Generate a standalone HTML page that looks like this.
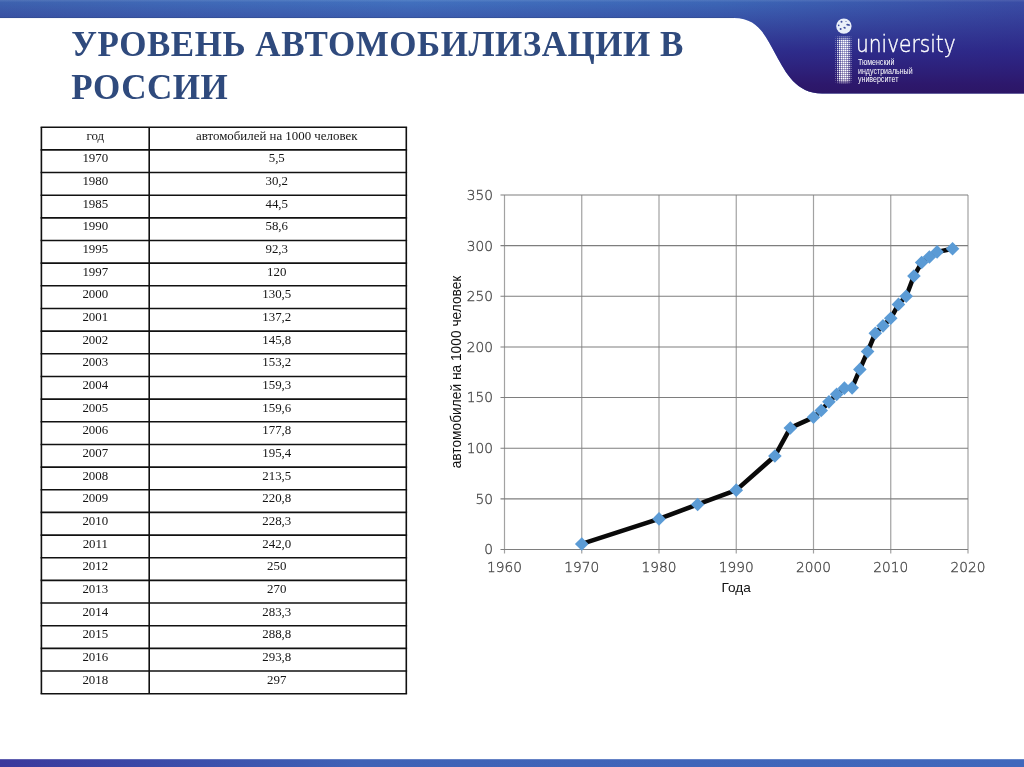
<!DOCTYPE html>
<html lang="ru"><head><meta charset="utf-8"><title>Уровень автомобилизации в России</title>
<style>
html,body{margin:0;padding:0;background:#fff;}
body{width:1024px;height:767px;position:relative;overflow:hidden;font-family:"Liberation Sans",sans-serif;}
.abs{position:absolute;}
h1{position:absolute;left:71.3px;top:23.0px;margin:0;width:720px;font-family:"Liberation Serif",serif;font-weight:bold;font-size:35px;line-height:43px;color:#2f4a7d;letter-spacing:0.52px;}
.uni{position:absolute;left:856.2px;top:29px;color:#fff;font-family:"DejaVu Sans",sans-serif;font-weight:200;font-size:23px;line-height:30px;white-space:nowrap;transform-origin:0 0;transform:scaleX(0.876);-webkit-text-stroke:0.4px #fff;}
.sub{position:absolute;left:858.2px;top:57.9px;color:#fff;font-size:9px;line-height:8.65px;white-space:nowrap;transform-origin:0 0;transform:scaleX(0.783);}
</style></head><body>
<svg class="abs" style="left:0;top:0" width="1024" height="767" viewBox="0 0 1024 767">
<defs>
<linearGradient id="gh" x1="0" y1="0" x2="1" y2="0"><stop offset="0" stop-color="#3e64b0"/><stop offset="0.15" stop-color="#406bb8"/><stop offset="0.4" stop-color="#4273c0"/><stop offset="0.7" stop-color="#3d69b8"/><stop offset="1" stop-color="#3a4ea6"/></linearGradient>
<linearGradient id="gv" x1="0" y1="0" x2="0" y2="1"><stop offset="0" stop-color="#2a1c7c" stop-opacity="0"/><stop offset="0.19" stop-color="#2a1c7c" stop-opacity="0.27"/><stop offset="0.55" stop-color="#2a1e80" stop-opacity="0.8"/><stop offset="0.9" stop-color="#2d186c" stop-opacity="1"/><stop offset="1" stop-color="#2c1666" stop-opacity="1"/></linearGradient>
<linearGradient id="gb" x1="0" y1="0" x2="1" y2="0"><stop offset="0" stop-color="#3a389c"/><stop offset="0.15" stop-color="#3b4aa8"/><stop offset="0.35" stop-color="#3f62b6"/><stop offset="1" stop-color="#4068bc"/></linearGradient>
</defs>
<path id="hd" d="M0,0 H1024 V93.4 H822 C796,93.4 786,73 776,55 C766,37 759,18 734,18 H0 Z" fill="url(#gh)"/>
<path d="M0,0 H1024 V93.4 H822 C796,93.4 786,73 776,55 C766,37 759,18 734,18 H0 Z" fill="url(#gv)"/>
<rect x="0" y="0" width="1024" height="1.5" fill="#fff" fill-opacity="0.08"/>
<path d="M0,17.6 H734" stroke="#2f4a86" stroke-opacity="0.55" stroke-width="0.9" fill="none"/>
<rect x="0" y="759.2" width="1024" height="8" fill="url(#gb)"/>
</svg>
<svg class="abs" style="left:0;top:0" width="1024" height="110" viewBox="0 0 1024 110"><g fill="#fff"><rect x="835.00" y="36.00" width="1.00" height="1.00" fill-opacity="0.09"/><rect x="837.00" y="36.00" width="1.30" height="1.30" fill-opacity="0.24"/><rect x="839.00" y="36.00" width="1.50" height="1.50" fill-opacity="0.30"/><rect x="841.00" y="36.00" width="1.60" height="1.60" fill-opacity="0.30"/><rect x="843.00" y="36.00" width="1.65" height="1.60" fill-opacity="0.30"/><rect x="845.00" y="36.00" width="1.60" height="1.60" fill-opacity="0.30"/><rect x="847.00" y="36.00" width="1.50" height="1.50" fill-opacity="0.30"/><rect x="849.00" y="36.00" width="1.30" height="1.30" fill-opacity="0.24"/><rect x="851.00" y="36.00" width="1.00" height="1.00" fill-opacity="0.09"/><rect x="835.00" y="38.00" width="1.00" height="1.00" fill-opacity="0.18"/><rect x="837.00" y="38.00" width="1.30" height="1.30" fill-opacity="0.48"/><rect x="839.00" y="38.00" width="1.50" height="1.50" fill-opacity="0.60"/><rect x="841.00" y="38.00" width="1.60" height="1.60" fill-opacity="0.60"/><rect x="843.00" y="38.00" width="1.65" height="1.60" fill-opacity="0.60"/><rect x="845.00" y="38.00" width="1.60" height="1.60" fill-opacity="0.60"/><rect x="847.00" y="38.00" width="1.50" height="1.50" fill-opacity="0.60"/><rect x="849.00" y="38.00" width="1.30" height="1.30" fill-opacity="0.48"/><rect x="851.00" y="38.00" width="1.00" height="1.00" fill-opacity="0.18"/><rect x="835.00" y="40.00" width="1.00" height="1.00" fill-opacity="0.30"/><rect x="837.00" y="40.00" width="1.30" height="1.30" fill-opacity="0.80"/><rect x="839.00" y="40.00" width="1.50" height="1.50" fill-opacity="1.00"/><rect x="841.00" y="40.00" width="1.60" height="1.60" fill-opacity="1.00"/><rect x="843.00" y="40.00" width="1.65" height="1.60" fill-opacity="1.00"/><rect x="845.00" y="40.00" width="1.60" height="1.60" fill-opacity="1.00"/><rect x="847.00" y="40.00" width="1.50" height="1.50" fill-opacity="1.00"/><rect x="849.00" y="40.00" width="1.30" height="1.30" fill-opacity="0.80"/><rect x="851.00" y="40.00" width="1.00" height="1.00" fill-opacity="0.30"/><rect x="835.00" y="42.00" width="1.00" height="1.00" fill-opacity="0.30"/><rect x="837.00" y="42.00" width="1.30" height="1.30" fill-opacity="0.80"/><rect x="839.00" y="42.00" width="1.50" height="1.50" fill-opacity="1.00"/><rect x="841.00" y="42.00" width="1.60" height="1.60" fill-opacity="1.00"/><rect x="843.00" y="42.00" width="1.65" height="1.60" fill-opacity="1.00"/><rect x="845.00" y="42.00" width="1.60" height="1.60" fill-opacity="1.00"/><rect x="847.00" y="42.00" width="1.50" height="1.50" fill-opacity="1.00"/><rect x="849.00" y="42.00" width="1.30" height="1.30" fill-opacity="0.80"/><rect x="851.00" y="42.00" width="1.00" height="1.00" fill-opacity="0.30"/><rect x="835.00" y="44.00" width="1.00" height="1.00" fill-opacity="0.30"/><rect x="837.00" y="44.00" width="1.30" height="1.30" fill-opacity="0.80"/><rect x="839.00" y="44.00" width="1.50" height="1.50" fill-opacity="1.00"/><rect x="841.00" y="44.00" width="1.60" height="1.60" fill-opacity="1.00"/><rect x="843.00" y="44.00" width="1.65" height="1.60" fill-opacity="1.00"/><rect x="845.00" y="44.00" width="1.60" height="1.60" fill-opacity="1.00"/><rect x="847.00" y="44.00" width="1.50" height="1.50" fill-opacity="1.00"/><rect x="849.00" y="44.00" width="1.30" height="1.30" fill-opacity="0.80"/><rect x="851.00" y="44.00" width="1.00" height="1.00" fill-opacity="0.30"/><rect x="835.00" y="46.00" width="1.00" height="1.00" fill-opacity="0.30"/><rect x="837.00" y="46.00" width="1.30" height="1.30" fill-opacity="0.80"/><rect x="839.00" y="46.00" width="1.50" height="1.50" fill-opacity="1.00"/><rect x="841.00" y="46.00" width="1.60" height="1.60" fill-opacity="1.00"/><rect x="843.00" y="46.00" width="1.65" height="1.60" fill-opacity="1.00"/><rect x="845.00" y="46.00" width="1.60" height="1.60" fill-opacity="1.00"/><rect x="847.00" y="46.00" width="1.50" height="1.50" fill-opacity="1.00"/><rect x="849.00" y="46.00" width="1.30" height="1.30" fill-opacity="0.80"/><rect x="851.00" y="46.00" width="1.00" height="1.00" fill-opacity="0.30"/><rect x="835.00" y="48.00" width="1.00" height="1.00" fill-opacity="0.30"/><rect x="837.00" y="48.00" width="1.30" height="1.30" fill-opacity="0.80"/><rect x="839.00" y="48.00" width="1.50" height="1.50" fill-opacity="1.00"/><rect x="841.00" y="48.00" width="1.60" height="1.60" fill-opacity="1.00"/><rect x="843.00" y="48.00" width="1.65" height="1.60" fill-opacity="1.00"/><rect x="845.00" y="48.00" width="1.60" height="1.60" fill-opacity="1.00"/><rect x="847.00" y="48.00" width="1.50" height="1.50" fill-opacity="1.00"/><rect x="849.00" y="48.00" width="1.30" height="1.30" fill-opacity="0.80"/><rect x="851.00" y="48.00" width="1.00" height="1.00" fill-opacity="0.30"/><rect x="835.00" y="50.00" width="1.00" height="1.00" fill-opacity="0.30"/><rect x="837.00" y="50.00" width="1.30" height="1.30" fill-opacity="0.80"/><rect x="839.00" y="50.00" width="1.50" height="1.50" fill-opacity="1.00"/><rect x="841.00" y="50.00" width="1.60" height="1.60" fill-opacity="1.00"/><rect x="843.00" y="50.00" width="1.65" height="1.60" fill-opacity="1.00"/><rect x="845.00" y="50.00" width="1.60" height="1.60" fill-opacity="1.00"/><rect x="847.00" y="50.00" width="1.50" height="1.50" fill-opacity="1.00"/><rect x="849.00" y="50.00" width="1.30" height="1.30" fill-opacity="0.80"/><rect x="851.00" y="50.00" width="1.00" height="1.00" fill-opacity="0.30"/><rect x="835.00" y="52.00" width="1.00" height="1.00" fill-opacity="0.30"/><rect x="837.00" y="52.00" width="1.30" height="1.30" fill-opacity="0.80"/><rect x="839.00" y="52.00" width="1.50" height="1.50" fill-opacity="1.00"/><rect x="841.00" y="52.00" width="1.60" height="1.60" fill-opacity="1.00"/><rect x="843.00" y="52.00" width="1.65" height="1.60" fill-opacity="1.00"/><rect x="845.00" y="52.00" width="1.60" height="1.60" fill-opacity="1.00"/><rect x="847.00" y="52.00" width="1.50" height="1.50" fill-opacity="1.00"/><rect x="849.00" y="52.00" width="1.30" height="1.30" fill-opacity="0.80"/><rect x="851.00" y="52.00" width="1.00" height="1.00" fill-opacity="0.30"/><rect x="835.00" y="54.00" width="1.00" height="1.00" fill-opacity="0.30"/><rect x="837.00" y="54.00" width="1.30" height="1.30" fill-opacity="0.80"/><rect x="839.00" y="54.00" width="1.50" height="1.50" fill-opacity="1.00"/><rect x="841.00" y="54.00" width="1.60" height="1.60" fill-opacity="1.00"/><rect x="843.00" y="54.00" width="1.65" height="1.60" fill-opacity="1.00"/><rect x="845.00" y="54.00" width="1.60" height="1.60" fill-opacity="1.00"/><rect x="847.00" y="54.00" width="1.50" height="1.50" fill-opacity="1.00"/><rect x="849.00" y="54.00" width="1.30" height="1.30" fill-opacity="0.80"/><rect x="851.00" y="54.00" width="1.00" height="1.00" fill-opacity="0.30"/><rect x="835.00" y="56.00" width="1.00" height="1.00" fill-opacity="0.30"/><rect x="837.00" y="56.00" width="1.30" height="1.30" fill-opacity="0.80"/><rect x="839.00" y="56.00" width="1.50" height="1.50" fill-opacity="1.00"/><rect x="841.00" y="56.00" width="1.60" height="1.60" fill-opacity="1.00"/><rect x="843.00" y="56.00" width="1.65" height="1.60" fill-opacity="1.00"/><rect x="845.00" y="56.00" width="1.60" height="1.60" fill-opacity="1.00"/><rect x="847.00" y="56.00" width="1.50" height="1.50" fill-opacity="1.00"/><rect x="849.00" y="56.00" width="1.30" height="1.30" fill-opacity="0.80"/><rect x="851.00" y="56.00" width="1.00" height="1.00" fill-opacity="0.30"/><rect x="835.00" y="58.00" width="1.00" height="1.00" fill-opacity="0.30"/><rect x="837.00" y="58.00" width="1.30" height="1.30" fill-opacity="0.80"/><rect x="839.00" y="58.00" width="1.50" height="1.50" fill-opacity="1.00"/><rect x="841.00" y="58.00" width="1.60" height="1.60" fill-opacity="1.00"/><rect x="843.00" y="58.00" width="1.65" height="1.60" fill-opacity="1.00"/><rect x="845.00" y="58.00" width="1.60" height="1.60" fill-opacity="1.00"/><rect x="847.00" y="58.00" width="1.50" height="1.50" fill-opacity="1.00"/><rect x="849.00" y="58.00" width="1.30" height="1.30" fill-opacity="0.80"/><rect x="851.00" y="58.00" width="1.00" height="1.00" fill-opacity="0.30"/><rect x="835.00" y="60.00" width="1.00" height="1.00" fill-opacity="0.30"/><rect x="837.00" y="60.00" width="1.30" height="1.30" fill-opacity="0.80"/><rect x="839.00" y="60.00" width="1.50" height="1.50" fill-opacity="1.00"/><rect x="841.00" y="60.00" width="1.60" height="1.60" fill-opacity="1.00"/><rect x="843.00" y="60.00" width="1.65" height="1.60" fill-opacity="1.00"/><rect x="845.00" y="60.00" width="1.60" height="1.60" fill-opacity="1.00"/><rect x="847.00" y="60.00" width="1.50" height="1.50" fill-opacity="1.00"/><rect x="849.00" y="60.00" width="1.30" height="1.30" fill-opacity="0.80"/><rect x="851.00" y="60.00" width="1.00" height="1.00" fill-opacity="0.30"/><rect x="835.00" y="62.00" width="1.00" height="1.00" fill-opacity="0.30"/><rect x="837.00" y="62.00" width="1.30" height="1.30" fill-opacity="0.80"/><rect x="839.00" y="62.00" width="1.50" height="1.50" fill-opacity="1.00"/><rect x="841.00" y="62.00" width="1.60" height="1.60" fill-opacity="1.00"/><rect x="843.00" y="62.00" width="1.65" height="1.60" fill-opacity="1.00"/><rect x="845.00" y="62.00" width="1.60" height="1.60" fill-opacity="1.00"/><rect x="847.00" y="62.00" width="1.50" height="1.50" fill-opacity="1.00"/><rect x="849.00" y="62.00" width="1.30" height="1.30" fill-opacity="0.80"/><rect x="851.00" y="62.00" width="1.00" height="1.00" fill-opacity="0.30"/><rect x="835.00" y="64.00" width="1.00" height="1.00" fill-opacity="0.30"/><rect x="837.00" y="64.00" width="1.30" height="1.30" fill-opacity="0.80"/><rect x="839.00" y="64.00" width="1.50" height="1.50" fill-opacity="1.00"/><rect x="841.00" y="64.00" width="1.60" height="1.60" fill-opacity="1.00"/><rect x="843.00" y="64.00" width="1.65" height="1.60" fill-opacity="1.00"/><rect x="845.00" y="64.00" width="1.60" height="1.60" fill-opacity="1.00"/><rect x="847.00" y="64.00" width="1.50" height="1.50" fill-opacity="1.00"/><rect x="849.00" y="64.00" width="1.30" height="1.30" fill-opacity="0.80"/><rect x="851.00" y="64.00" width="1.00" height="1.00" fill-opacity="0.30"/><rect x="835.00" y="66.00" width="1.00" height="1.00" fill-opacity="0.30"/><rect x="837.00" y="66.00" width="1.30" height="1.30" fill-opacity="0.80"/><rect x="839.00" y="66.00" width="1.50" height="1.50" fill-opacity="1.00"/><rect x="841.00" y="66.00" width="1.60" height="1.60" fill-opacity="1.00"/><rect x="843.00" y="66.00" width="1.65" height="1.60" fill-opacity="1.00"/><rect x="845.00" y="66.00" width="1.60" height="1.60" fill-opacity="1.00"/><rect x="847.00" y="66.00" width="1.50" height="1.50" fill-opacity="1.00"/><rect x="849.00" y="66.00" width="1.30" height="1.30" fill-opacity="0.80"/><rect x="851.00" y="66.00" width="1.00" height="1.00" fill-opacity="0.30"/><rect x="835.00" y="68.00" width="1.00" height="1.00" fill-opacity="0.30"/><rect x="837.00" y="68.00" width="1.30" height="1.30" fill-opacity="0.80"/><rect x="839.00" y="68.00" width="1.50" height="1.50" fill-opacity="1.00"/><rect x="841.00" y="68.00" width="1.60" height="1.60" fill-opacity="1.00"/><rect x="843.00" y="68.00" width="1.65" height="1.60" fill-opacity="1.00"/><rect x="845.00" y="68.00" width="1.60" height="1.60" fill-opacity="1.00"/><rect x="847.00" y="68.00" width="1.50" height="1.50" fill-opacity="1.00"/><rect x="849.00" y="68.00" width="1.30" height="1.30" fill-opacity="0.80"/><rect x="851.00" y="68.00" width="1.00" height="1.00" fill-opacity="0.30"/><rect x="835.00" y="70.00" width="1.00" height="1.00" fill-opacity="0.30"/><rect x="837.00" y="70.00" width="1.30" height="1.30" fill-opacity="0.80"/><rect x="839.00" y="70.00" width="1.50" height="1.50" fill-opacity="1.00"/><rect x="841.00" y="70.00" width="1.60" height="1.60" fill-opacity="1.00"/><rect x="843.00" y="70.00" width="1.65" height="1.60" fill-opacity="1.00"/><rect x="845.00" y="70.00" width="1.60" height="1.60" fill-opacity="1.00"/><rect x="847.00" y="70.00" width="1.50" height="1.50" fill-opacity="1.00"/><rect x="849.00" y="70.00" width="1.30" height="1.30" fill-opacity="0.80"/><rect x="851.00" y="70.00" width="1.00" height="1.00" fill-opacity="0.30"/><rect x="835.00" y="72.00" width="1.00" height="1.00" fill-opacity="0.30"/><rect x="837.00" y="72.00" width="1.30" height="1.30" fill-opacity="0.80"/><rect x="839.00" y="72.00" width="1.50" height="1.50" fill-opacity="1.00"/><rect x="841.00" y="72.00" width="1.60" height="1.60" fill-opacity="1.00"/><rect x="843.00" y="72.00" width="1.65" height="1.60" fill-opacity="1.00"/><rect x="845.00" y="72.00" width="1.60" height="1.60" fill-opacity="1.00"/><rect x="847.00" y="72.00" width="1.50" height="1.50" fill-opacity="1.00"/><rect x="849.00" y="72.00" width="1.30" height="1.30" fill-opacity="0.80"/><rect x="851.00" y="72.00" width="1.00" height="1.00" fill-opacity="0.30"/><rect x="835.00" y="74.00" width="1.00" height="1.00" fill-opacity="0.30"/><rect x="837.00" y="74.00" width="1.30" height="1.30" fill-opacity="0.80"/><rect x="839.00" y="74.00" width="1.50" height="1.50" fill-opacity="1.00"/><rect x="841.00" y="74.00" width="1.60" height="1.60" fill-opacity="1.00"/><rect x="843.00" y="74.00" width="1.65" height="1.60" fill-opacity="1.00"/><rect x="845.00" y="74.00" width="1.60" height="1.60" fill-opacity="1.00"/><rect x="847.00" y="74.00" width="1.50" height="1.50" fill-opacity="1.00"/><rect x="849.00" y="74.00" width="1.30" height="1.30" fill-opacity="0.80"/><rect x="851.00" y="74.00" width="1.00" height="1.00" fill-opacity="0.30"/><rect x="835.00" y="76.00" width="1.00" height="1.00" fill-opacity="0.30"/><rect x="837.00" y="76.00" width="1.30" height="1.30" fill-opacity="0.80"/><rect x="839.00" y="76.00" width="1.50" height="1.50" fill-opacity="1.00"/><rect x="841.00" y="76.00" width="1.60" height="1.60" fill-opacity="1.00"/><rect x="843.00" y="76.00" width="1.65" height="1.60" fill-opacity="1.00"/><rect x="845.00" y="76.00" width="1.60" height="1.60" fill-opacity="1.00"/><rect x="847.00" y="76.00" width="1.50" height="1.50" fill-opacity="1.00"/><rect x="849.00" y="76.00" width="1.30" height="1.30" fill-opacity="0.80"/><rect x="851.00" y="76.00" width="1.00" height="1.00" fill-opacity="0.30"/><rect x="835.00" y="78.00" width="1.00" height="1.00" fill-opacity="0.30"/><rect x="837.00" y="78.00" width="1.30" height="1.30" fill-opacity="0.80"/><rect x="839.00" y="78.00" width="1.50" height="1.50" fill-opacity="1.00"/><rect x="841.00" y="78.00" width="1.60" height="1.60" fill-opacity="1.00"/><rect x="843.00" y="78.00" width="1.65" height="1.60" fill-opacity="1.00"/><rect x="845.00" y="78.00" width="1.60" height="1.60" fill-opacity="1.00"/><rect x="847.00" y="78.00" width="1.50" height="1.50" fill-opacity="1.00"/><rect x="849.00" y="78.00" width="1.30" height="1.30" fill-opacity="0.80"/><rect x="851.00" y="78.00" width="1.00" height="1.00" fill-opacity="0.30"/><rect x="835.00" y="80.00" width="1.00" height="1.00" fill-opacity="0.24"/><rect x="837.00" y="80.00" width="1.30" height="1.30" fill-opacity="0.64"/><rect x="839.00" y="80.00" width="1.50" height="1.50" fill-opacity="0.80"/><rect x="841.00" y="80.00" width="1.60" height="1.60" fill-opacity="0.80"/><rect x="843.00" y="80.00" width="1.65" height="1.60" fill-opacity="0.80"/><rect x="845.00" y="80.00" width="1.60" height="1.60" fill-opacity="0.80"/><rect x="847.00" y="80.00" width="1.50" height="1.50" fill-opacity="0.80"/><rect x="849.00" y="80.00" width="1.30" height="1.30" fill-opacity="0.64"/><rect x="851.00" y="80.00" width="1.00" height="1.00" fill-opacity="0.24"/><rect x="835.00" y="82.00" width="1.00" height="1.00" fill-opacity="0.10"/><rect x="837.00" y="82.00" width="1.30" height="1.30" fill-opacity="0.28"/><rect x="839.00" y="82.00" width="1.50" height="1.50" fill-opacity="0.35"/><rect x="841.00" y="82.00" width="1.60" height="1.60" fill-opacity="0.35"/><rect x="843.00" y="82.00" width="1.65" height="1.60" fill-opacity="0.35"/><rect x="845.00" y="82.00" width="1.60" height="1.60" fill-opacity="0.35"/><rect x="847.00" y="82.00" width="1.50" height="1.50" fill-opacity="0.35"/><rect x="849.00" y="82.00" width="1.30" height="1.30" fill-opacity="0.28"/><rect x="851.00" y="82.00" width="1.00" height="1.00" fill-opacity="0.10"/></g><circle cx="843.9" cy="26.1" r="7.7" fill="#e9eff9"/><g fill="#3a4a9c"><circle cx="841.5" cy="21.8" r="1"/><ellipse cx="848.2" cy="24.8" rx="2" ry="0.9" transform="rotate(12 848.2 24.8)"/><circle cx="838.7" cy="25.4" r="0.8"/><circle cx="840.6" cy="28.9" r="1"/><ellipse cx="844.6" cy="27.8" rx="1.3" ry="0.8" transform="rotate(25 844.6 27.8)"/><circle cx="846" cy="21.5" r="0.5"/></g></svg>
<div class="uni">university</div>
<div class="sub">Тюменский<br>индустриальный<br>университет</div>
<h1>УРОВЕНЬ АВТОМОБИЛИЗАЦИИ В РОССИИ</h1>
<svg class="abs" style="left:0;top:0" width="1024" height="767" viewBox="0 0 1024 767">
<g stroke="#111" stroke-width="1.6" fill="none">
<line x1="40.60" y1="127.20" x2="407.10" y2="127.20"/>
<line x1="40.60" y1="149.86" x2="407.10" y2="149.86"/>
<line x1="40.60" y1="172.52" x2="407.10" y2="172.52"/>
<line x1="40.60" y1="195.18" x2="407.10" y2="195.18"/>
<line x1="40.60" y1="217.84" x2="407.10" y2="217.84"/>
<line x1="40.60" y1="240.50" x2="407.10" y2="240.50"/>
<line x1="40.60" y1="263.16" x2="407.10" y2="263.16"/>
<line x1="40.60" y1="285.82" x2="407.10" y2="285.82"/>
<line x1="40.60" y1="308.48" x2="407.10" y2="308.48"/>
<line x1="40.60" y1="331.14" x2="407.10" y2="331.14"/>
<line x1="40.60" y1="353.80" x2="407.10" y2="353.80"/>
<line x1="40.60" y1="376.46" x2="407.10" y2="376.46"/>
<line x1="40.60" y1="399.12" x2="407.10" y2="399.12"/>
<line x1="40.60" y1="421.78" x2="407.10" y2="421.78"/>
<line x1="40.60" y1="444.44" x2="407.10" y2="444.44"/>
<line x1="40.60" y1="467.10" x2="407.10" y2="467.10"/>
<line x1="40.60" y1="489.76" x2="407.10" y2="489.76"/>
<line x1="40.60" y1="512.42" x2="407.10" y2="512.42"/>
<line x1="40.60" y1="535.08" x2="407.10" y2="535.08"/>
<line x1="40.60" y1="557.74" x2="407.10" y2="557.74"/>
<line x1="40.60" y1="580.40" x2="407.10" y2="580.40"/>
<line x1="40.60" y1="603.06" x2="407.10" y2="603.06"/>
<line x1="40.60" y1="625.72" x2="407.10" y2="625.72"/>
<line x1="40.60" y1="648.38" x2="407.10" y2="648.38"/>
<line x1="40.60" y1="671.04" x2="407.10" y2="671.04"/>
<line x1="40.60" y1="693.70" x2="407.10" y2="693.70"/>
<line x1="41.40" y1="127.20" x2="41.40" y2="693.70"/>
<line x1="149.20" y1="127.20" x2="149.20" y2="693.70"/>
<line x1="406.30" y1="127.20" x2="406.30" y2="693.70"/>
</g>
<g font-family="'Liberation Serif', serif" font-size="12.9" fill="#151515" text-anchor="middle">
<text x="95.30" y="139.70">год</text><text x="276.75" y="139.70">автомобилей на 1000 человек</text>
<text x="95.30" y="162.36">1970</text><text x="276.75" y="162.36">5,5</text>
<text x="95.30" y="185.02">1980</text><text x="276.75" y="185.02">30,2</text>
<text x="95.30" y="207.68">1985</text><text x="276.75" y="207.68">44,5</text>
<text x="95.30" y="230.34">1990</text><text x="276.75" y="230.34">58,6</text>
<text x="95.30" y="253.00">1995</text><text x="276.75" y="253.00">92,3</text>
<text x="95.30" y="275.66">1997</text><text x="276.75" y="275.66">120</text>
<text x="95.30" y="298.32">2000</text><text x="276.75" y="298.32">130,5</text>
<text x="95.30" y="320.98">2001</text><text x="276.75" y="320.98">137,2</text>
<text x="95.30" y="343.64">2002</text><text x="276.75" y="343.64">145,8</text>
<text x="95.30" y="366.30">2003</text><text x="276.75" y="366.30">153,2</text>
<text x="95.30" y="388.96">2004</text><text x="276.75" y="388.96">159,3</text>
<text x="95.30" y="411.62">2005</text><text x="276.75" y="411.62">159,6</text>
<text x="95.30" y="434.28">2006</text><text x="276.75" y="434.28">177,8</text>
<text x="95.30" y="456.94">2007</text><text x="276.75" y="456.94">195,4</text>
<text x="95.30" y="479.60">2008</text><text x="276.75" y="479.60">213,5</text>
<text x="95.30" y="502.26">2009</text><text x="276.75" y="502.26">220,8</text>
<text x="95.30" y="524.92">2010</text><text x="276.75" y="524.92">228,3</text>
<text x="95.30" y="547.58">2011</text><text x="276.75" y="547.58">242,0</text>
<text x="95.30" y="570.24">2012</text><text x="276.75" y="570.24">250</text>
<text x="95.30" y="592.90">2013</text><text x="276.75" y="592.90">270</text>
<text x="95.30" y="615.56">2014</text><text x="276.75" y="615.56">283,3</text>
<text x="95.30" y="638.22">2015</text><text x="276.75" y="638.22">288,8</text>
<text x="95.30" y="660.88">2016</text><text x="276.75" y="660.88">293,8</text>
<text x="95.30" y="683.54">2018</text><text x="276.75" y="683.54">297</text>
</g>
<g stroke="#a2a2a2" stroke-width="1.2" fill="none">
<line x1="504.50" y1="195.00" x2="504.50" y2="553.50"/>
<line x1="581.75" y1="195.00" x2="581.75" y2="553.50"/>
<line x1="659.00" y1="195.00" x2="659.00" y2="553.50"/>
<line x1="736.25" y1="195.00" x2="736.25" y2="553.50"/>
<line x1="813.50" y1="195.00" x2="813.50" y2="553.50"/>
<line x1="890.75" y1="195.00" x2="890.75" y2="553.50"/>
<line x1="968.00" y1="195.00" x2="968.00" y2="553.50"/>
</g>
<g stroke="#7e7e7e" stroke-width="1.1" fill="none">
<line x1="500.50" y1="549.50" x2="968.00" y2="549.50"/>
<line x1="500.50" y1="498.86" x2="968.00" y2="498.86"/>
<line x1="500.50" y1="448.21" x2="968.00" y2="448.21"/>
<line x1="500.50" y1="397.57" x2="968.00" y2="397.57"/>
<line x1="500.50" y1="346.93" x2="968.00" y2="346.93"/>
<line x1="500.50" y1="296.28" x2="968.00" y2="296.28"/>
<line x1="500.50" y1="245.64" x2="968.00" y2="245.64"/>
<line x1="500.50" y1="195.00" x2="968.00" y2="195.00"/>
</g>
<g font-family="'DejaVu Sans', sans-serif" font-size="13.7" font-weight="200" fill="#454545" stroke="#454545" stroke-width="0.32">
<text x="493.00" y="554.40" text-anchor="end">0</text>
<text x="493.00" y="503.76" text-anchor="end">50</text>
<text x="493.00" y="453.11" text-anchor="end">100</text>
<text x="493.00" y="402.47" text-anchor="end">150</text>
<text x="493.00" y="351.83" text-anchor="end">200</text>
<text x="493.00" y="301.18" text-anchor="end">250</text>
<text x="493.00" y="250.54" text-anchor="end">300</text>
<text x="493.00" y="199.90" text-anchor="end">350</text>
<text x="504.50" y="572.00" text-anchor="middle">1960</text>
<text x="581.75" y="572.00" text-anchor="middle">1970</text>
<text x="659.00" y="572.00" text-anchor="middle">1980</text>
<text x="736.25" y="572.00" text-anchor="middle">1990</text>
<text x="813.50" y="572.00" text-anchor="middle">2000</text>
<text x="890.75" y="572.00" text-anchor="middle">2010</text>
<text x="968.00" y="572.00" text-anchor="middle">2020</text>
</g>
<text font-family="'Liberation Sans', sans-serif" font-size="13.6" fill="#111" text-anchor="middle" x="736.2" y="591.7">Года</text>
<text font-family="'Liberation Sans', sans-serif" font-size="13.75" fill="#111" text-anchor="middle" transform="translate(460.6,372.0) rotate(-90)">автомобилей на 1000 человек</text>
<polyline points="581.75,543.93 659.00,518.91 697.62,504.43 736.25,490.15 774.88,456.01 790.33,427.96 813.50,417.32 821.22,410.54 828.95,401.83 836.67,394.33 844.40,388.15 852.12,387.85 859.85,369.41 867.58,351.59 875.30,333.25 883.02,325.86 890.75,318.26 898.47,304.39 906.20,296.28 913.92,276.03 921.65,262.56 929.38,256.99 937.10,251.92 952.55,248.68" fill="none" stroke="#0a0a0a" stroke-width="4.6" stroke-linejoin="round" stroke-linecap="round"/>
<g fill="#5b9bd5">
<path d="M581.75,537.13 L588.55,543.93 L581.75,550.73 L574.95,543.93Z"/>
<path d="M659.00,512.11 L665.80,518.91 L659.00,525.71 L652.20,518.91Z"/>
<path d="M697.62,497.63 L704.42,504.43 L697.62,511.23 L690.83,504.43Z"/>
<path d="M736.25,483.35 L743.05,490.15 L736.25,496.95 L729.45,490.15Z"/>
<path d="M774.88,449.21 L781.67,456.01 L774.88,462.81 L768.08,456.01Z"/>
<path d="M790.33,421.16 L797.12,427.96 L790.33,434.76 L783.53,427.96Z"/>
<path d="M813.50,410.52 L820.30,417.32 L813.50,424.12 L806.70,417.32Z"/>
<path d="M821.22,403.74 L828.02,410.54 L821.22,417.34 L814.42,410.54Z"/>
<path d="M828.95,395.03 L835.75,401.83 L828.95,408.63 L822.15,401.83Z"/>
<path d="M836.67,387.53 L843.47,394.33 L836.67,401.13 L829.88,394.33Z"/>
<path d="M844.40,381.35 L851.20,388.15 L844.40,394.95 L837.60,388.15Z"/>
<path d="M852.12,381.05 L858.92,387.85 L852.12,394.65 L845.33,387.85Z"/>
<path d="M859.85,362.61 L866.65,369.41 L859.85,376.21 L853.05,369.41Z"/>
<path d="M867.58,344.79 L874.38,351.59 L867.58,358.39 L860.78,351.59Z"/>
<path d="M875.30,326.45 L882.10,333.25 L875.30,340.05 L868.50,333.25Z"/>
<path d="M883.02,319.06 L889.82,325.86 L883.02,332.66 L876.23,325.86Z"/>
<path d="M890.75,311.46 L897.55,318.26 L890.75,325.06 L883.95,318.26Z"/>
<path d="M898.47,297.59 L905.27,304.39 L898.47,311.19 L891.67,304.39Z"/>
<path d="M906.20,289.48 L913.00,296.28 L906.20,303.08 L899.40,296.28Z"/>
<path d="M913.92,269.23 L920.72,276.03 L913.92,282.83 L907.12,276.03Z"/>
<path d="M921.65,255.76 L928.45,262.56 L921.65,269.36 L914.85,262.56Z"/>
<path d="M929.38,250.19 L936.17,256.99 L929.38,263.79 L922.58,256.99Z"/>
<path d="M937.10,245.12 L943.90,251.92 L937.10,258.72 L930.30,251.92Z"/>
<path d="M952.55,241.88 L959.35,248.68 L952.55,255.48 L945.75,248.68Z"/>
</g>
</svg>
</body></html>
